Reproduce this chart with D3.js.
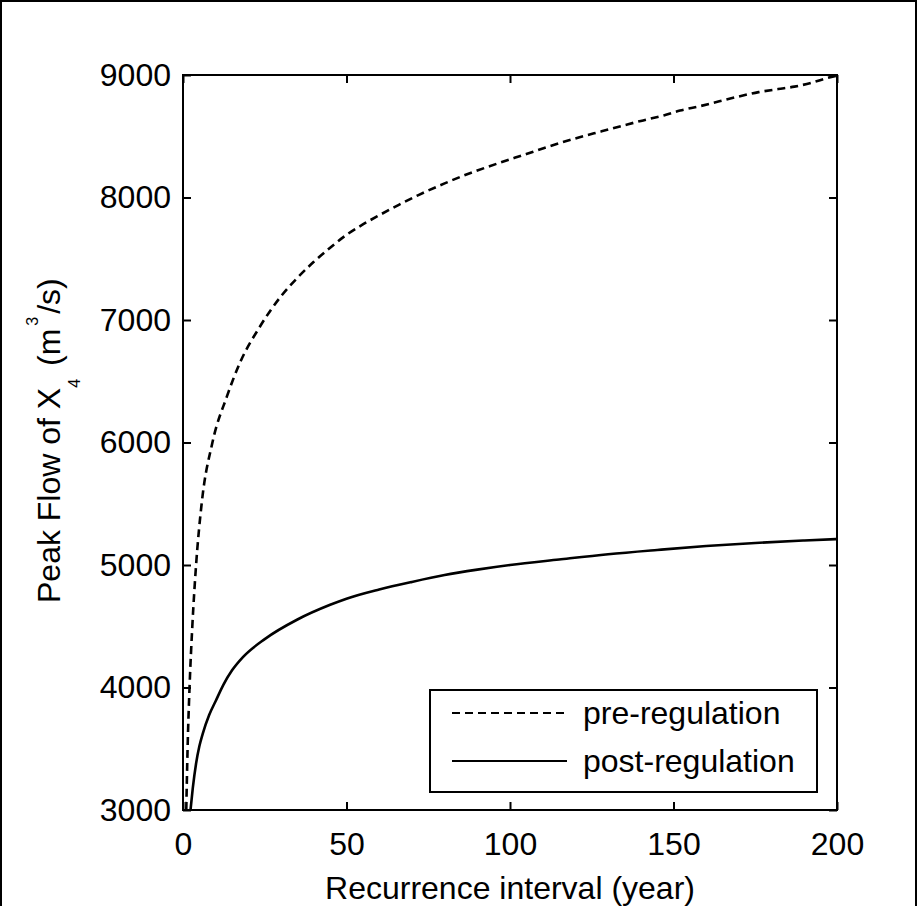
<!DOCTYPE html>
<html>
<head>
<meta charset="utf-8">
<script src="https://cdn.jsdelivr.net/npm/d3@7"></script>
<style>
  html, body { margin: 0; padding: 0; background: #fff; }
  svg { display: block; }
  text { font-family: "Liberation Sans", Arial, Helvetica, sans-serif; fill: #000; }
</style>
</head>
<body>
<svg id="chart" width="918" height="906"></svg>
<script>
// Return period (years) and peak flow (m3/s), pre-regulation regime
const preYears = [1, 1.4, 2, 2.85, 4, 5.7, 9, 13.4, 17.4, 23.5, 30, 35, 40, 45, 50, 55, 60, 66, 72, 80, 85, 90, 97, 105, 110, 121, 128, 135, 140, 147, 152, 158, 164, 170, 176, 182, 187, 192, 197, 200];
const preFlow  = [3000, 3500, 4000, 4500, 5000, 5500, 6000, 6374, 6650, 6945, 7195, 7345, 7475, 7590, 7695, 7780, 7855, 7940, 8020, 8115, 8170, 8220, 8285, 8355, 8400, 8490, 8540, 8590, 8625, 8670, 8710, 8745, 8785, 8825, 8860, 8885, 8905, 8935, 8975, 8995];

// Return period (years) and peak flow (m3/s), post-regulation regime
const postYears = [2.3, 3, 4, 5, 6, 8, 10, 12.3, 15, 18.4, 25, 35, 45, 50, 60, 70, 80, 90, 100, 115, 130, 145, 160, 175, 190, 200];
const postFlow  = [3000, 3180, 3380, 3520, 3620, 3775, 3890, 4020, 4140, 4250, 4395, 4555, 4675, 4725, 4800, 4862, 4918, 4962, 5000, 5045, 5088, 5123, 5155, 5180, 5200, 5212];

const xTicks = [0, 50, 100, 150, 200];
const yTicks = [3000, 4000, 5000, 6000, 7000, 8000, 9000];
const seriesNames = ["pre-regulation", "post-regulation"];

const svg = d3.select("#chart");
const W = 918, H = 906;
const pLeft = 183, pRight = 837, pTop = 75, pBottom = 810;
const FS = 32;

// figure frame
svg.append("rect")
  .attr("x", 1).attr("y", 1).attr("width", W - 3).attr("height", H + 4)
  .attr("fill", "none").attr("stroke", "#000").attr("stroke-width", 2);

const x = d3.scaleLinear().domain([0, 200]).range([pLeft, pRight]);
const y = d3.scaleLinear().domain([3000, 9000]).range([pBottom, pTop]);

// clip region for the curves
svg.append("clipPath").attr("id", "plotclip")
  .append("rect").attr("x", pLeft).attr("y", pTop).attr("width", pRight - pLeft).attr("height", pBottom - pTop);

const tickLen = 8;

// bottom/left axes carry labels, top/right mirror the ticks; all ticks point inward
const xAxisB = d3.axisBottom(x).tickValues(xTicks).tickSize(-tickLen).tickPadding(22).tickFormat(d3.format("d"));
const xAxisT = d3.axisTop(x).tickValues(xTicks).tickSize(-tickLen).tickFormat("");
const yAxisL = d3.axisLeft(y).tickValues(yTicks).tickSize(-tickLen).tickPadding(12).tickFormat(d3.format("d"));
const yAxisR = d3.axisRight(y).tickValues(yTicks).tickSize(-tickLen).tickFormat("");

function styleAxis(g) {
  g.select(".domain").remove();
  g.selectAll(".tick line").attr("stroke", "#000").attr("stroke-width", 2);
  g.selectAll(".tick text").attr("font-size", FS).attr("font-family", "Liberation Sans, Arial, sans-serif").attr("fill", "#000");
}

svg.append("g").attr("transform", `translate(0,${pBottom})`).call(xAxisB).call(styleAxis);
svg.append("g").attr("transform", `translate(0,${pTop})`).call(xAxisT).call(styleAxis);
svg.append("g").attr("transform", `translate(${pLeft},0)`).call(yAxisL).call(styleAxis);
svg.append("g").attr("transform", `translate(${pRight},0)`).call(yAxisR).call(styleAxis);

// plot box
svg.append("rect")
  .attr("x", pLeft).attr("y", pTop).attr("width", pRight - pLeft).attr("height", pBottom - pTop)
  .attr("fill", "none").attr("stroke", "#000").attr("stroke-width", 2);

const line = d3.line().x(d => x(d[0])).y(d => y(d[1])).curve(d3.curveMonotoneX);

const preData = preYears.map((t, i) => [t, preFlow[i]]);
const postData = postYears.map((t, i) => [t, postFlow[i]]);

const curves = svg.append("g").attr("clip-path", "url(#plotclip)");
curves.append("path").datum(preData)
  .attr("d", line).attr("fill", "none").attr("stroke", "#000")
  .attr("stroke-width", 2.6).attr("stroke-dasharray", "8,5");
curves.append("path").datum(postData)
  .attr("d", line).attr("fill", "none").attr("stroke", "#000")
  .attr("stroke-width", 2.6);

// legend
const lg = svg.append("g");
lg.append("rect").attr("x", 430).attr("y", 690).attr("width", 387).attr("height", 102)
  .attr("fill", "#fff").attr("stroke", "#000").attr("stroke-width", 2);
const legendRows = [
  { name: seriesNames[0], dash: "8,5", yy: 713 },
  { name: seriesNames[1], dash: null, yy: 761 }
];
legendRows.forEach(r => {
  lg.append("line").attr("x1", 452).attr("x2", 567).attr("y1", r.yy).attr("y2", r.yy)
    .attr("stroke", "#000").attr("stroke-width", 2)
    .attr("stroke-dasharray", r.dash);
  lg.append("text").attr("x", 583).attr("y", r.yy + 11).attr("font-size", FS).text(r.name);
});

// axis titles
svg.append("text").attr("x", (pLeft + pRight) / 2).attr("y", 899)
  .attr("text-anchor", "middle").attr("font-size", FS).text("Recurrence interval (year)");

const yl = svg.append("text")
  .attr("transform", "translate(60,603) rotate(-90)")
  .attr("font-size", FS);
yl.append("tspan").text("Peak Flow of X");
yl.append("tspan").attr("font-size", 16).attr("dy", 20).text("4");
yl.append("tspan").attr("dy", -20).attr("dx", 4).text(" (m");
yl.append("tspan").attr("font-size", 16).attr("dy", -22).attr("dx", 3).text("3");
yl.append("tspan").attr("dy", 22).attr("dx", 3).text("/s)");
</script>
</body>
</html>
